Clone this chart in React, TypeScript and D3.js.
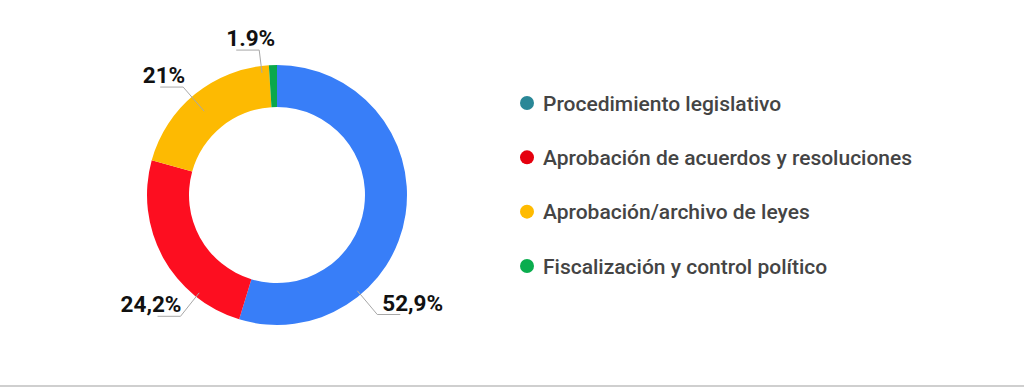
import { useMemo } from "react";
import * as d3 from "d3";

// slice sizes as drawn (%), clockwise from 12 o'clock
const sliceValues = [54.7, 24.6, 19.7, 1.0];
// labels as printed on the chart
const sliceLabels = ["52,9%", "24,2%", "21%", "1.9%"];
const sliceColors = ["#387ef8", "#fd0e20", "#fdba02", "#0aa84c"];

const legendItems = [
  "Procedimiento legislativo",
  "Aprobación de acuerdos y resoluciones",
  "Aprobación/archivo de leyes",
  "Fiscalización y control político",
];
const legendColors = ["#2a8797", "#e5000e", "#ffbb00", "#0aad4e"];

// leader line placement: angle (deg), start radius, elbow radius, text nudge
const leaders = [
  { angle: 140, r0: 125, r1: 156, dx: 5 },
  { angle: 218.5, r0: 125, r1: 155, dx: 1 },
  { angle: 319, r0: 111, r1: 143, dx: 2 },
  { angle: 353, r0: 123, r1: 146, dx: 16 },
];

const width = 1024;
const height = 387;
const cx = 277;
const cy = 195;
const outerRadius = 130;
const innerRadius = 88;

function polar(angleDeg: number, r: number): [number, number] {
  const a = (angleDeg * Math.PI) / 180;
  return [cx + Math.sin(a) * r, cy - Math.cos(a) * r];
}

export default function App() {
  const arcs = useMemo(
    () => d3.pie<number>().sort(null).value((d) => d)(sliceValues),
    []
  );
  const arc = d3
    .arc<d3.PieArcDatum<number>>()
    .innerRadius(innerRadius)
    .outerRadius(outerRadius);

  const legendY = d3
    .scalePoint<string>()
    .domain(legendItems)
    .range([103, 266]);

  return (
    <svg
      width={width}
      height={height}
      style={{ position: "absolute", left: 0, top: 0, background: "#fff" }}
      fontFamily="Roboto, 'Noto Sans', sans-serif"
    >
      <g transform={`translate(${cx},${cy})`}>
        {arcs.map((a, i) => (
          <path key={i} d={arc(a) ?? ""} fill={sliceColors[i]} />
        ))}
      </g>

      {leaders.map((l, i) => {
        const [x0, y0] = polar(l.angle, l.r0);
        const [x1, y1] = polar(l.angle, l.r1);
        const right = x1 > cx;
        const x2 = right ? x1 + 23 : x1 - 23;
        return (
          <g key={i}>
            <polyline
              points={`${x0},${y0} ${x1},${y1} ${x2},${y1}`}
              fill="none"
              stroke="#a8a8a8"
              strokeWidth={1}
            />
            <text
              x={x1 + l.dx}
              y={y1 - 4}
              textAnchor={right ? "start" : "end"}
              fontSize={22.5}
              fontWeight={700}
              fill="#111"
            >
              {sliceLabels[i]}
            </text>
          </g>
        );
      })}

      {legendItems.map((item, i) => {
        const y = legendY(item) ?? 0;
        return (
          <g key={item}>
            <circle cx={527} cy={y} r={7} fill={legendColors[i]} />
            <text
              x={543}
              y={y}
              dy="0.36em"
              fontSize={21}
              fontWeight={500}
              fill="#444"
            >
              {item}
            </text>
          </g>
        );
      })}

      <rect x={0} y={385} width={width} height={2} fill="#cfcfcf" />
    </svg>
  );
}
